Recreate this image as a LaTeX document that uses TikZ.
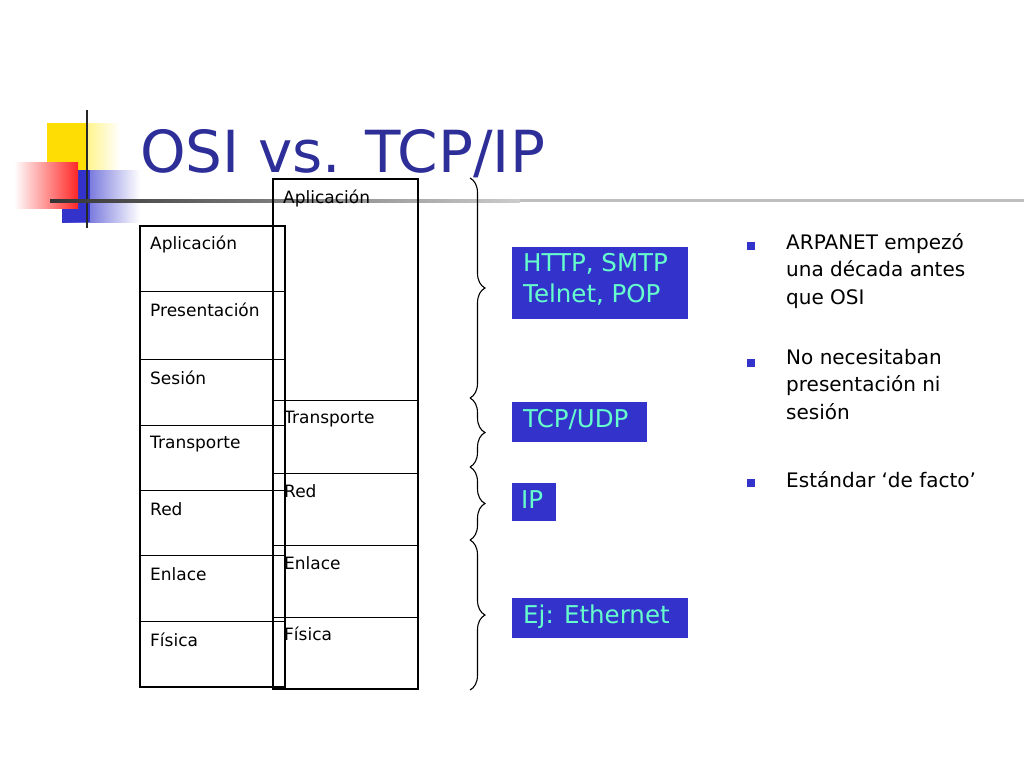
\documentclass[tikz,border=0pt]{standalone}
\usepackage{fontspec}
\setmainfont{DejaVu Sans}
\usetikzlibrary{decorations.pathreplacing}
\definecolor{ttl}{HTML}{2E2E99}
\definecolor{bbox}{HTML}{3333CC}
\definecolor{btxt}{HTML}{66FFCC}
\tikzset{
 lay/.style={font=\fontsize{17}{19}\selectfont,anchor=west,inner sep=0pt},
 blue/.style={fill=bbox,text=btxt,font=\fontsize{24.5}{31}\selectfont,anchor=north west,align=left,inner sep=0pt,text depth=0pt},
 br/.style={decorate,decoration={brace,amplitude=15pt},line width=1.1pt},
 bul/.style={font=\fontsize{20}{27.5}\selectfont,anchor=north west,align=left,inner sep=0pt}
}
\begin{document}
\begin{tikzpicture}[x=1pt,y=-1pt]
\useasboundingbox (0,0) rectangle (1024,768);
% logo
\shade[left color=yellow!80!orange, right color=white] (47,123) rectangle (120,170);
\fill[yellow!80!orange] (47,123) rectangle (87,170);
\shade[left color=bbox, right color=white] (62,170) rectangle (140,222);
\fill[bbox] (62,170) rectangle (90,222);
\shade[left color=white,right color=red!85] (14,162) rectangle (78,208);
\draw[line width=2.5pt,black!85] (87,110) -- (87,228);
\shade[left color=black!80, right color=black!20] (50,199) rectangle (520,202.5);
\fill[black!25] (520,199) rectangle (1024,202);
\node[text=ttl,font=\fontsize{58}{58}\selectfont,anchor=base west,inner sep=0pt] (title) at (140,172) {OSI vs. TCP/IP};
% OSI
\draw[line width=2.5pt] (140,226) rectangle (285,687);
\foreach \y in {291,359,425,490,555,621} \draw[line width=1pt] (140,\y) -- (285,\y);
\node[lay] (o1) at (150,244) {Aplicación};
\node[lay] (o2) at (150,310) {Presentación};
\node[lay] (o3) at (150,378) {Sesión};
\node[lay] (o4) at (150,444) {Transporte};
\node[lay] (o5) at (150,509) {Red};
\node[lay] (o6) at (150,574) {Enlace};
\node[lay] (o7) at (150,640) {Física};
% TCP
\draw[line width=2.5pt] (273,179) rectangle (418,689);
\foreach \y in {400,473,545,617} \draw[line width=1pt] (273,\y) -- (418,\y);
\node[lay] (t1) at (283,198) {Aplicación};
\node[lay] (t2) at (284,419) {Transporte};
\node[lay] (t3) at (284,491) {Red};
\node[lay] (t4) at (284,563) {Enlace};
\node[lay] (t5) at (284,634) {Física};
% braces
\draw[br] (470,178) -- (470,398);
\draw[br] (470,398) -- (470,467);
\draw[br] (470,467) -- (470,540);
\draw[br] (470,540) -- (470,690);
% blue boxes
\fill[bbox] (512,247) rectangle (688,319);
\node[blue] (b1) at (523,253) {HTTP, SMTP\\Telnet, POP};
\fill[bbox] (512,402) rectangle (647,442);
\node[blue] (b2) at (523,409) {TCP/UDP};
\fill[bbox] (512,483) rectangle (556,521);
\node[blue] (b3) at (521,490) {IP};
\fill[bbox] (512,598) rectangle (688,638);
\node[blue] (b4) at (523,605) {Ej: Ethernet};
% bullets
\foreach \y in {246,363,483} \fill[bbox] (747,\y-4) rectangle (755,\y+4);
\node[bul] (p1) at (786,233) {ARPANET empezó\\una década antes\\que OSI};
\node[bul] (p2) at (786,349) {No necesitaban\\presentación ni\\sesión};
\node[bul] (p3) at (786,471) {Estándar ‘de facto’};
\end{tikzpicture}
\end{document}
